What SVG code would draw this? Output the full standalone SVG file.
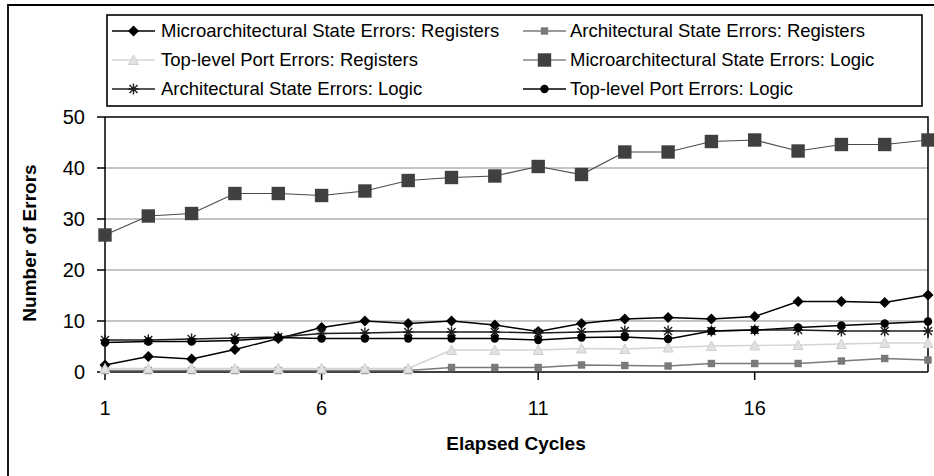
<svg xmlns="http://www.w3.org/2000/svg" width="934" height="476" viewBox="0 0 934 476">
<style>
  text { font-family: "Liberation Sans", Arial, sans-serif; fill: #000; }
  .leg { font-size: 18.5px; }
  .tick { font-size: 20px; }
  .title { font-size: 19px; font-weight: bold; }
  .grid { stroke: #8c8c8c; stroke-width: 1; }
  .axis { stroke: #000; stroke-width: 1.5; fill: none; }
  .s-msr { stroke: #000; stroke-width: 1.4; fill: none; }
  .s-asr { stroke: #7a7a7a; stroke-width: 1.4; fill: none; }
  .s-tpr { stroke: #d4d4d4; stroke-width: 1.4; fill: none; }
  .s-msl { stroke: #4a4a4a; stroke-width: 1.2; fill: none; }
  .s-asl { stroke: #1e1e1e; stroke-width: 1.4; fill: none; }
  .s-tpl { stroke: #000; stroke-width: 1.4; fill: none; }
</style>
<defs>
  <marker id="mDia" markerUnits="userSpaceOnUse" markerWidth="12" markerHeight="12" refX="6" refY="6" overflow="visible">
    <path d="M6,0.5 L11.5,6 L6,11.5 L0.5,6Z" fill="#000"/>
  </marker>
  <marker id="mSqS" markerUnits="userSpaceOnUse" markerWidth="8" markerHeight="8" refX="4" refY="4" overflow="visible">
    <rect x="0.3" y="0.3" width="7.4" height="7.4" fill="#7a7a7a"/>
  </marker>
  <marker id="mTri" markerUnits="userSpaceOnUse" markerWidth="12" markerHeight="12" refX="6" refY="6" overflow="visible">
    <path d="M6,1 L11,10.5 L1,10.5Z" fill="#e2e2e2" stroke="#cfcfcf" stroke-width="1"/>
  </marker>
  <marker id="mSqL" markerUnits="userSpaceOnUse" markerWidth="14" markerHeight="14" refX="7" refY="7" overflow="visible">
    <rect x="0.3" y="0.3" width="13.4" height="13.4" fill="#404040"/>
  </marker>
  <marker id="mStar" markerUnits="userSpaceOnUse" markerWidth="12" markerHeight="12" refX="6" refY="6" overflow="visible">
    <path d="M2,2 L10,10 M2,10 L10,2 M6,0.5 V11.5 M1,6 H11" stroke="#1e1e1e" stroke-width="1.4" fill="none"/>
  </marker>
  <marker id="mCirc" markerUnits="userSpaceOnUse" markerWidth="10" markerHeight="10" refX="5" refY="5" overflow="visible">
    <circle cx="5" cy="5" r="4.2" fill="#000"/>
  </marker>
</defs>

<rect x="0" y="0" width="934" height="476" fill="#fff"/>

<!-- outer chart frame -->
<path d="M8,476 V5 H934" fill="none" stroke="#000" stroke-width="1.8"/>

<!-- legend -->
<g id="legend">
  <rect x="107" y="15" width="815" height="91" fill="#fff" stroke="#000" stroke-width="1.6"/>
  <g id="leg-msr">
    <path class="s-msr" d="M112,31 L133.5,31 L155,31" marker-mid="url(#mDia)"/>
    <text class="leg" x="161" y="37">Microarchitectural State Errors: Registers</text>
  </g>
  <g id="leg-tpr">
    <path class="s-tpr" d="M112,60 L133.5,60 L155,60" marker-mid="url(#mTri)"/>
    <text class="leg" x="161" y="66">Top-level Port Errors: Registers</text>
  </g>
  <g id="leg-asl">
    <path class="s-asl" d="M112,89 L133.5,89 L155,89" marker-mid="url(#mStar)"/>
    <text class="leg" x="161" y="95">Architectural State Errors: Logic</text>
  </g>
  <g id="leg-asr">
    <path class="s-asr" d="M523,31 L544.5,31 L566,31" marker-mid="url(#mSqS)"/>
    <text class="leg" x="570" y="37">Architectural State Errors: Registers</text>
  </g>
  <g id="leg-msl">
    <path class="s-msl" d="M523,60 L544.5,60 L566,60" marker-mid="url(#mSqL)"/>
    <text class="leg" x="570" y="66">Microarchitectural State Errors: Logic</text>
  </g>
  <g id="leg-tpl">
    <path class="s-tpl" d="M523,89 L544.5,89 L566,89" marker-mid="url(#mCirc)"/>
    <text class="leg" x="570" y="95">Top-level Port Errors: Logic</text>
  </g>
</g>

<!-- axes and grid -->
<g id="axes">
  <line class="grid" x1="105" y1="168" x2="928" y2="168"/>
  <line class="grid" x1="105" y1="219" x2="928" y2="219"/>
  <line class="grid" x1="105" y1="270" x2="928" y2="270"/>
  <line class="grid" x1="105" y1="321" x2="928" y2="321"/>
  <path class="axis" d="M105,117 H928 V372"/>
  <path class="axis" d="M105,117 V372 H928"/>
  <path class="axis" d="M97,117 H105 M97,168 H105 M97,219 H105 M97,270 H105 M97,321 H105 M97,372 H105"/>
  <path class="axis" d="M105,372 V380 M321.6,372 V380 M538.2,372 V380 M754.7,372 V380"/>
  <g text-anchor="end">
    <text class="tick" x="85" y="124">50</text>
    <text class="tick" x="85" y="175">40</text>
    <text class="tick" x="85" y="226">30</text>
    <text class="tick" x="85" y="277">20</text>
    <text class="tick" x="85" y="328">10</text>
    <text class="tick" x="85" y="379">0</text>
  </g>
  <g text-anchor="middle">
    <text class="tick" x="105" y="415">1</text>
    <text class="tick" x="321.6" y="415">6</text>
    <text class="tick" x="538.2" y="415">11</text>
    <text class="tick" x="754.7" y="415">16</text>
  </g>
  <text class="title" x="516" y="450" text-anchor="middle">Elapsed Cycles</text>
  <text class="title" transform="translate(36,243) rotate(-90)" text-anchor="middle">Number of Errors</text>
</g>

<!-- series -->
<g id="connectors">
  <polyline id="series-msr" class="s-msr" marker-start="url(#mDia)" marker-mid="url(#mDia)" marker-end="url(#mDia)"
    points="105,365 148.3,356.5 191.6,359 234.9,349.5 278.3,338.5 321.6,327.5 364.9,321 408.2,323.5 451.5,321 494.8,325 538.2,331.5 581.5,323.5 624.8,319 668.1,317.5 711.4,319 754.7,316.5 798.1,301.5 841.4,301.5 884.7,302.5 928,295"/>
  <polyline id="series-asr" class="s-asr" marker-start="url(#mSqS)" marker-mid="url(#mSqS)" marker-end="url(#mSqS)"
    points="105,370.5 148.3,370.5 191.6,370.5 234.9,370.5 278.3,370.5 321.6,370.5 364.9,370.5 408.2,370.5 451.5,367.5 494.8,367.5 538.2,367.5 581.5,365 624.8,365.5 668.1,366 711.4,363.5 754.7,363.5 798.1,363.5 841.4,361 884.7,358.5 928,360"/>
  <polyline id="series-tpr" class="s-tpr" marker-start="url(#mTri)" marker-mid="url(#mTri)" marker-end="url(#mTri)"
    points="105,368.5 148.3,368.5 191.6,368.5 234.9,368.5 278.3,368.5 321.6,368.5 364.9,368.5 408.2,368.5 451.5,350 494.8,350 538.2,350 581.5,348.5 624.8,349 668.1,347.5 711.4,346 754.7,345.5 798.1,345 841.4,344 884.7,343 928,343"/>
  <polyline id="series-msl" class="s-msl" marker-start="url(#mSqL)" marker-mid="url(#mSqL)" marker-end="url(#mSqL)"
    points="105,235 148.3,216 191.6,213.5 234.9,193.5 278.3,193.5 321.6,195.5 364.9,191 408.2,180.5 451.5,177.5 494.8,176 538.2,166.5 581.5,174.5 624.8,152 668.1,152 711.4,141.5 754.7,140 798.1,151 841.4,144.5 884.7,144.5 928,140"/>
  <polyline id="series-asl" class="s-asl" marker-start="url(#mStar)" marker-mid="url(#mStar)" marker-end="url(#mStar)"
    points="105,340 148.3,340 191.6,339 234.9,338 278.3,337 321.6,333.5 364.9,333 408.2,332 451.5,332 494.8,332 538.2,333 581.5,332 624.8,331 668.1,331 711.4,331 754.7,330 798.1,330 841.4,331 884.7,331 928,331"/>
  <polyline id="series-tpl" class="s-tpl" marker-start="url(#mCirc)" marker-mid="url(#mCirc)" marker-end="url(#mCirc)"
    points="105,342.5 148.3,341.5 191.6,341.5 234.9,340.5 278.3,337.5 321.6,338.5 364.9,338.5 408.2,338.5 451.5,338.5 494.8,338.5 538.2,340 581.5,337.5 624.8,337 668.1,339 711.4,331 754.7,330 798.1,327.5 841.4,325.5 884.7,323.5 928,321.5"/>
</g>
</svg>
